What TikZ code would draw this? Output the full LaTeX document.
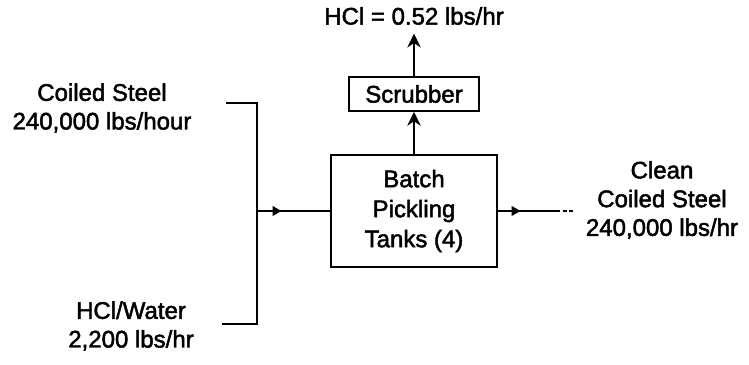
\documentclass[tikz,border=0pt]{standalone}
\usepackage{fontspec}
\setmainfont{Liberation Sans}
\newfontfamily\scanfont{Liberation Sans}[FakeBold=2]
\usetikzlibrary{arrows.meta, decorations.markings}

\begin{document}
\begin{tikzpicture}[x=0.75pt, y=-0.75pt,
  every node/.style={font=\scanfont\fontsize{18pt}{21.5pt}\selectfont, align=center},
  unit/.style={draw, line width=1.6pt, inner sep=0pt},
  flow/.style={line width=1.6pt},
  midarrow/.style={flow, decoration={markings, mark=at position #1 with {\fill (3.5pt,0pt) -- (-3pt,3.8pt) -- (-3pt,-3.8pt) -- cycle;}}, postaction={decorate}},
  uparrow/.style={flow, -{Stealth[length=10.5pt,width=10pt]}}]
\useasboundingbox (0,0) rectangle (749,364);
% streams in
\node (coil) at (102,108) {Coiled Steel\\240,000 lbs/hour};
\node (acid) at (131,326) {HCl/Water\\2,200 lbs/hr};
\coordinate (ctop) at (226,103);
\coordinate (cbot) at (222,324);
\coordinate (jn) at (257,211);
% units
\node[unit, minimum width=125pt, minimum height=84pt, font=\scanfont\fontsize{18pt}{22.5pt}\selectfont] (tanks) at (414,211) {Batch\\Pickling\\Tanks (4)};
\node[unit, minimum width=98pt, minimum height=25pt] (scrub) at (414,94) {Scrubber};
% streams out
\node (hcl) at (414,16) {HCl = 0.52 lbs/hr};
\node (clean) at (662,200) {Clean\\Coiled Steel\\240,000 lbs/hr};
\coordinate (oend) at (556,211);
\coordinate (otip) at (573,211);
\draw[flow] (ctop) -| (jn) |- (cbot);
\draw[midarrow=0.27] (jn) -- (tanks.west);
\draw[uparrow] (tanks.north) -- (scrub.south);
\draw[uparrow, shorten >=3pt] (scrub.north) -- (hcl.south);
\draw[midarrow=0.3] (tanks.east) -- (oend);
\draw[flow, dash pattern=on 3pt off 2pt] (oend) -- (otip);
\end{tikzpicture}
\end{document}
